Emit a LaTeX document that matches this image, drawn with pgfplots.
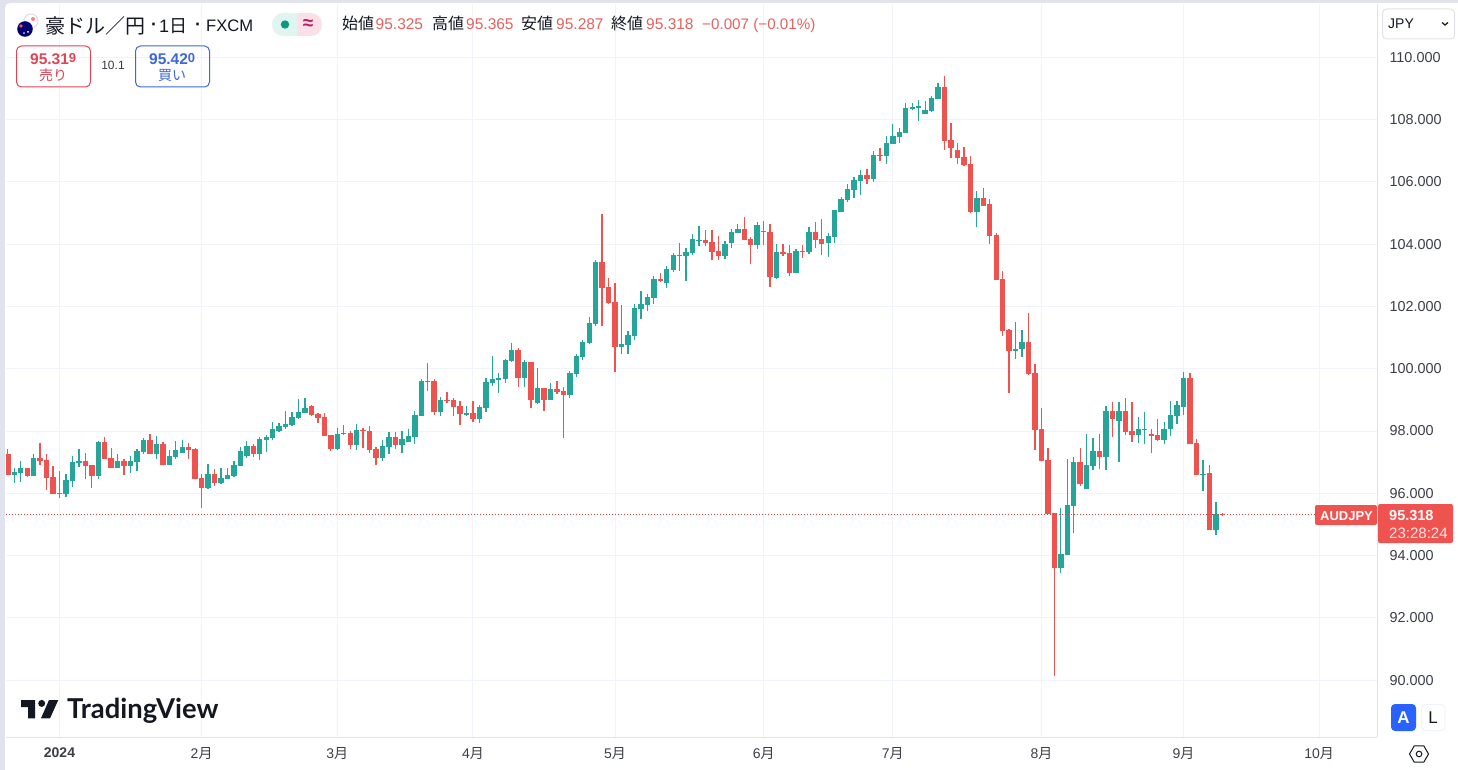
\documentclass[border=0pt]{standalone}
\usepackage{fontspec}
\setmainfont{Liberation Sans}
\newfontfamily\cjk{Noto Sans CJK JP}
\newfontfamily\logofont{Lato}
\usepackage{pgfplots}
\usepackage{pgfplotstable}
\pgfplotsset{compat=1.18}
\usetikzlibrary{shapes.geometric}

\definecolor{upcol}{HTML}{26A69A}
\definecolor{downcol}{HTML}{EF5350}
\definecolor{gridcol}{HTML}{F0F3FA}
\definecolor{framecol}{HTML}{E0E3EB}
\definecolor{inkcol}{HTML}{131722}
\definecolor{labelcol}{HTML}{3C3F49}
\definecolor{ohlccol}{HTML}{E2635F}
\definecolor{sellcol}{HTML}{DE4656}
\definecolor{buycol}{HTML}{3D68D8}
\definecolor{pillgreen}{HTML}{E0F5F0}
\definecolor{pillpink}{HTML}{FBE0E8}
\definecolor{dotgreen}{HTML}{089981}
\definecolor{approxcol}{HTML}{C2185B}
\definecolor{btnblue}{HTML}{2962FF}

% k = trading day counted from 2 Jan 2024; open high low close
\pgfplotstableread{
k o h l c
-7 96.59 96.80 96.34 96.68
-6 96.65 97.04 96.37 96.81
-4 96.56 97.26 96.56 97.13
1 95.98 96.62 95.88 96.43
2 96.40 97.20 96.20 97.00
3 96.98 97.42 96.85 97.04
6 96.56 97.68 96.46 97.65
9 96.81 97.26 96.81 97.04
11 96.88 97.20 96.65 97.04
12 97.00 97.42 96.72 97.36
13 97.33 97.78 97.26 97.71
15 97.26 97.84 97.10 97.58
17 96.91 97.39 96.91 97.20
18 97.17 97.68 97.10 97.39
19 97.29 97.71 97.29 97.49
23 96.17 96.94 96.14 96.62
25 96.33 96.81 96.30 96.49
26 96.46 96.81 96.45 96.59
27 96.56 97.04 96.52 96.91
28 96.88 97.49 96.88 97.36
29 97.20 97.68 97.13 97.52
31 97.26 97.81 97.07 97.74
32 97.71 97.87 97.33 97.81
33 97.78 98.29 97.71 98.06
34 98.00 98.26 97.97 98.16
35 98.13 98.64 98.06 98.23
36 98.19 98.62 98.16 98.44
37 98.42 99.03 98.39 98.61
38 98.58 99.06 98.58 98.74
43 97.42 98.10 97.39 97.90
44 97.89 98.19 97.87 97.94
46 97.55 98.22 97.39 98.03
50 97.13 97.71 97.05 97.52
51 97.49 97.97 97.26 97.81
53 97.55 98.00 97.29 97.74
54 97.65 98.06 97.65 97.84
55 97.81 98.64 97.58 98.51
56 98.48 99.67 98.48 99.60
59 98.61 99.09 98.48 98.99
63 98.53 98.80 98.48 98.57
65 98.39 98.83 98.26 98.77
66 98.74 99.70 98.61 99.57
67 99.54 100.41 99.44 99.67
68 99.64 99.86 99.22 99.70
69 99.67 100.30 99.54 100.28
70 100.25 100.82 100.21 100.60
72 99.70 100.28 99.41 100.21
74 98.90 100.02 98.87 99.38
76 98.99 99.54 98.99 99.35
79 99.16 99.93 99.06 99.86
80 99.83 100.47 99.73 100.41
81 100.38 100.92 100.28 100.86
82 100.82 101.66 100.79 101.46
83 101.43 103.50 101.37 103.43
87 100.69 102.04 100.46 100.79
88 100.75 101.21 100.46 101.08
89 101.04 102.08 100.92 101.95
90 101.91 102.50 101.59 102.08
91 102.04 102.40 101.85 102.30
92 102.27 102.98 102.08 102.88
94 102.75 103.30 102.59 103.20
95 103.17 103.72 103.11 103.66
96 103.62 104.04 103.14 103.66
97 103.62 103.88 102.82 103.75
98 103.72 104.33 103.66 104.17
99 104.10 104.59 103.95 104.14
103 103.62 104.11 103.53 104.01
104 104.04 104.50 103.88 104.40
105 104.37 104.66 104.37 104.50
108 103.98 104.72 103.85 104.62
111 102.91 104.01 102.88 103.75
114 103.08 103.85 103.08 103.79
116 103.75 104.56 103.69 104.40
119 104.04 104.37 103.59 104.27
120 104.24 105.11 104.04 105.08
121 105.03 105.51 105.03 105.44
122 105.41 105.93 105.35 105.77
123 105.73 106.15 105.48 106.05
124 106.02 106.38 105.57 106.21
126 106.09 106.99 105.99 106.86
128 106.82 107.47 106.57 107.24
129 107.21 107.85 107.21 107.47
130 107.44 107.72 107.24 107.60
131 107.56 108.53 107.56 108.36
132 108.34 108.53 108.30 108.40
133 108.38 108.62 107.95 108.43
134 108.17 108.59 108.17 108.30
135 108.27 108.75 108.24 108.69
136 108.65 109.17 108.65 109.04
142 105.03 105.70 104.55 105.48
148 100.58 101.51 100.32 100.64
149 100.64 101.25 100.38 100.87
155 93.59 95.52 93.43 94.04
156 94.01 97.09 94.01 95.61
157 95.58 97.15 94.71 96.99
159 96.13 97.89 96.13 96.90
160 96.87 97.76 96.74 97.35
162 97.15 98.79 96.74 98.63
164 98.31 98.92 96.99 98.63
167 97.86 98.44 97.60 98.05
168 98.05 98.60 97.57 98.08
171 97.70 98.28 97.57 98.08
172 98.05 98.95 97.83 98.50
173 98.47 98.95 98.24 98.85
174 98.76 99.88 98.53 99.69
177 96.58 97.06 96.09 96.63
179 94.81 95.71 94.65 95.32
}\upbars

\pgfplotstableread{
k o h l c
-8 97.26 97.42 96.59 96.59
-5 96.81 96.81 96.53 96.56
-3 97.13 97.61 96.91 97.04
-2 97.07 97.26 96.11 96.49
-1 96.52 96.88 95.98 95.98
0 96.02 96.72 95.84 95.98
4 97.04 97.29 96.47 96.88
5 96.91 96.91 96.17 96.56
7 97.65 97.81 97.10 97.10
8 97.13 97.45 96.81 96.81
10 97.04 97.10 96.59 96.88
14 97.71 97.90 97.26 97.26
16 97.58 97.65 96.91 96.91
20 97.49 97.61 97.10 97.40
21 97.42 97.45 96.46 96.46
22 96.49 96.62 95.53 96.17
24 96.62 96.78 96.23 96.33
30 97.52 97.58 97.17 97.26
39 98.80 98.83 98.48 98.51
40 98.55 98.58 98.25 98.42
41 98.45 98.58 97.85 97.85
42 97.87 97.87 97.37 97.42
45 97.94 98.00 97.42 97.55
47 98.04 98.10 97.45 97.99
48 98.00 98.16 97.30 97.39
49 97.42 97.49 96.91 97.13
52 97.81 97.97 97.42 97.55
57 99.62 100.18 99.28 99.58
58 99.60 99.67 98.51 98.61
60 98.98 99.25 98.90 98.95
61 98.99 99.06 98.48 98.77
62 98.80 98.96 98.19 98.55
64 98.58 98.96 98.29 98.39
71 100.60 100.66 99.41 99.70
73 100.21 100.21 98.74 98.99
75 99.38 99.38 98.64 98.99
77 99.35 99.60 99.19 99.25
78 99.28 99.41 97.78 99.16
84 103.43 104.98 101.37 102.59
85 102.62 102.91 102.08 102.11
86 102.14 102.75 99.88 100.69
93 102.88 103.08 102.79 102.82
100 104.14 104.46 103.95 104.04
101 104.08 104.46 103.50 103.75
102 103.79 104.27 103.50 103.62
106 104.50 104.88 104.14 104.14
107 104.17 104.24 103.37 103.98
109 104.42 104.75 103.98 104.38
110 104.40 104.66 102.62 102.95
112 103.75 104.01 103.62 103.69
113 103.72 103.98 102.98 103.08
115 103.79 103.98 103.56 103.75
117 104.40 104.72 103.88 104.14
118 104.17 104.82 103.66 104.01
125 106.21 106.41 105.93 106.09
127 106.86 107.08 106.66 106.82
137 109.04 109.39 107.02 107.31
138 107.34 107.88 106.76 107.08
139 107.02 107.24 106.57 106.76
140 106.79 107.11 106.50 106.53
141 106.57 106.82 104.99 105.03
143 105.48 105.80 105.22 105.22
144 105.28 105.44 104.00 104.26
145 104.30 104.36 102.86 102.86
146 102.89 103.14 101.06 101.22
147 101.25 101.28 99.23 100.58
150 100.87 101.80 99.81 99.84
151 99.87 100.16 97.40 98.04
152 98.07 98.75 97.05 97.05
153 97.06 97.44 95.32 95.32
154 95.36 95.36 90.12 93.59
158 96.99 97.44 96.22 96.29
161 97.35 97.89 96.77 97.15
163 98.63 98.92 97.80 98.40
165 98.63 99.05 97.86 97.96
166 97.99 98.92 97.64 97.86
169 97.92 98.05 97.28 97.83
170 97.86 98.40 97.67 97.70
175 99.69 99.85 97.57 97.57
176 97.60 97.73 96.58 96.58
178 96.64 96.90 94.81 94.81
180 95.325 95.365 95.287 95.29
}\downbars

\newcommand\jp[1]{{\cjk #1}}
\newcommand\fs[1]{\fontsize{#1}{#1}\selectfont}

\begin{document}
\begin{tikzpicture}
\path[use as bounding box] (0pt,0pt) rectangle (1458pt,-770pt);
\fill[framecol] (0pt,0pt) rectangle (1458pt,-770pt);
\fill[white,rounded corners=5pt] (5pt,-3pt) rectangle (1470pt,-780pt);

\begin{axis}[
  at={(6pt,-737pt)}, anchor=south west,
  scale only axis, width=1371pt, height=733pt,
  xmin=-8.282, xmax=203.947,
  ymin=88.177, ymax=111.708,
  axis x line*=bottom, axis y line*=right,
  axis line style={framecol, line width=1pt, -},
  major tick length=0pt,
  grid=major, grid style={gridcol, line width=1pt},
  xtick={0,22,43,64,86,109,129,152,174,195},
  xticklabels={\textbf{2024},2\jp{月},3\jp{月},4\jp{月},5\jp{月},6\jp{月},7\jp{月},8\jp{月},9\jp{月},10\jp{月}},
  ytick={90,92,...,110},
  xticklabel style={font=\fs{14}, text=labelcol, yshift=-7pt},
  yticklabel style={font=\fs{14.4}, text=labelcol, xshift=9pt, anchor=west,
    /pgf/number format/.cd, fixed, fixed zerofill, precision=3, assume math mode=true},
  clip=true,
]
% wicks
\addplot[draw=none, mark=none, forget plot,
  error bars/.cd, y dir=plus, y explicit, error mark=none,
  error bar style={upcol, line width=1.3pt}]
  table[x=k, y=l, y error plus expr=\thisrow{h}-\thisrow{l}] {\upbars};
\addplot[draw=none, mark=none, forget plot,
  error bars/.cd, y dir=plus, y explicit, error mark=none,
  error bar style={downcol, line width=1.3pt}]
  table[x=k, y=l, y error plus expr=\thisrow{h}-\thisrow{l}] {\downbars};
% bodies
\addplot[draw=none, mark=none, forget plot,
  error bars/.cd, y dir=plus, y explicit, error mark=none,
  error bar style={upcol, line width=5.4pt}]
  table[x=k, y=o, y error plus expr=\thisrow{c}-\thisrow{o}] {\upbars};
\addplot[draw=none, mark=none, forget plot,
  error bars/.cd, y dir=plus, y explicit, error mark=none,
  error bar style={downcol, line width=5.4pt}]
  table[x=k, y=c, y error plus expr=\thisrow{o}-\thisrow{c}] {\downbars};
% last price line
\addplot[downcol!85!black, line width=0.9pt, dash pattern=on 1pt off 2pt, forget plot]
  coordinates {(-8.282,95.318) (195,95.318)};
\end{axis}

\begin{scope}[x=1pt,y=-1pt]
  % symbol line
  \fill[white] (31,21) circle (7);
  \draw[framecol!70!pink, line width=1pt] (31,21) circle (7);
  \fill[downcol!70] (33,19) circle (2);
  \fill[white] (25,29) circle (8.6);
  \fill[blue!45!black] (25,29) circle (7.8);
  \fill[red!70!white] (21,26) circle (1.8);
  \fill[white] (28,32) circle (1);
  \fill[white] (24,33) circle (0.8);
  \node[anchor=base west, inner sep=0, text=inkcol, font=\fs{20}] at (45,33.5) {\jp{豪ドル／円}};
  \node[anchor=base, inner sep=0, text=inkcol, font=\fs{18}\bfseries] at (154,31) {·};
  \node[anchor=base west, inner sep=0, text=inkcol, font=\fs{18}] at (159,32.5) {1\jp{日}};
  \node[anchor=base, inner sep=0, text=inkcol, font=\fs{18}\bfseries] at (198,31) {·};
  \node[anchor=base west, inner sep=0, text=inkcol, font=\fs{16.6}] at (206,32) {FXCM};
  % market status pill
  \fill[pillgreen, rounded corners=11pt] (272,13) rectangle (300,36);
  \fill[pillpink, rounded corners=11pt] (294,13) rectangle (322,36);
  \fill[pillgreen] (285,13) rectangle (297,36);
  \fill[pillpink] (297,13) rectangle (309,36);
  \fill[dotgreen] (285,24.5) circle (4.2);
  \node[anchor=center, inner sep=0, text=approxcol, font=\fs{19}\bfseries] at (308,24) {≈};
  % OHLC readout
  \foreach \lx/\nx/\lab/\val in {342/375.5/始値/95.325, 432/466/高値/95.365, 521/556/安値/95.287, 611/646/終値/95.318} {
    \node[anchor=base west, inner sep=0, text=inkcol, font=\fs{16}] at (\lx,29.5) {\jp{\lab}};
    \node[anchor=base west, inner sep=0, text=ohlccol, font=\fs{15.5}] at (\nx,29.5) {\val};
  }
  \node[anchor=base west, inner sep=0, text=ohlccol, font=\fs{15.2}] at (702,29.5) {−0.007 (−0.01\%)};
  % sell and buy boxes
  \draw[sellcol, line width=1pt, rounded corners=5pt] (16.5,46) rectangle (90.5,87);
  \node[anchor=base west, inner sep=0, text=sellcol, font=\fs{15.5}\bfseries] at (30,64.5) {95.31\raisebox{2pt}{\fs{13}9}};
  \node[anchor=base, inner sep=0, text=sellcol, font=\fs{14}] at (53,81) {\jp{売り}};
  \node[anchor=base, inner sep=0, text=inkcol!85, font=\fs{12}] at (113,70) {10.1};
  \draw[buycol, line width=1pt, rounded corners=5pt] (135.5,46) rectangle (209.5,87);
  \node[anchor=base west, inner sep=0, text=buycol, font=\fs{15.5}\bfseries] at (149,64.5) {95.42\raisebox{2pt}{\fs{13}0}};
  \node[anchor=base, inner sep=0, text=buycol, font=\fs{14}] at (172,81) {\jp{買い}};
  % currency box
  \draw[framecol, line width=1pt, rounded corners=4pt] (1382.5,9) rectangle (1454.5,39);
  \node[anchor=base west, inner sep=0, text=inkcol, font=\fs{14}] at (1388,29) {JPY};
  \draw[inkcol, line width=1.2pt] (1442,22.5) -- (1445,25) -- (1448,22.5);
  % last price tags
  \fill[downcol, rounded corners=2pt] (1315,505) rectangle (1377,525);
  \node[anchor=base, inner sep=0, text=white, font=\fs{13}\bfseries] at (1346.5,520) {AUDJPY};
  \fill[downcol, rounded corners=2pt] (1378,504) rectangle (1453,543);
  \node[anchor=base west, inner sep=0, text=white, font=\fs{14.5}\bfseries] at (1389,520) {95.318};
  \node[anchor=base west, inner sep=0, text=white!85!downcol, font=\fs{15}] at (1389,538.5) {23:28:24};
  % logo
  \fill[inkcol] (21,700) -- (35,700) -- (35,718.3) -- (28,718.3) -- (28,707) -- (21,707) -- cycle;
  \fill[inkcol] (41.7,703.4) circle (3.5);
  \fill[inkcol] (49,700) -- (58.3,700) -- (50,718.3) -- (41,718.3) -- cycle;
  \node[anchor=base west, inner sep=0, text=inkcol, font=\logofont\fs{27.4}\bfseries] at (67,718.5) {TradingView};
  % scale buttons
  \fill[btnblue, rounded corners=4pt] (1391,704) rectangle (1416,731);
  \node[anchor=base, inner sep=0, text=white, font=\fs{17}\bfseries] at (1403.5,723.5) {A};
  \draw[gridcol, line width=1pt, rounded corners=4pt] (1421.5,704.5) rectangle (1445,730.5);
  \node[anchor=base, inner sep=0, text=inkcol, font=\fs{17}] at (1433.2,723.5) {L};
  \node[draw=inkcol, line width=1pt, regular polygon, regular polygon sides=6, minimum size=19pt, inner sep=0] at (1419,754) {};
  \draw[inkcol, line width=1pt] (1419,754) circle (2.8);
\end{scope}
\end{tikzpicture}
\end{document}
